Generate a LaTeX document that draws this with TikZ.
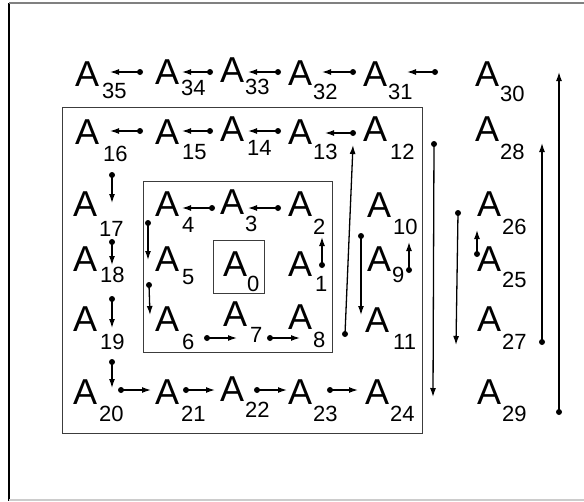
\documentclass[tikz,border=0pt]{standalone}
\usepackage{fontspec}
\setmainfont{Liberation Sans}
\usepackage{tikz}
\usetikzlibrary{arrows.meta}
\definecolor{boxgray}{RGB}{60,60,60}
\tikzset{
  letter/.style ={anchor=south west, inner sep=0pt, font=\fontsize{36}{36}\selectfont},
  index/.style  ={anchor=south west, inner sep=0pt, font=\fontsize{22}{22}\selectfont},
  ar/.style     ={-{Latex[length=9pt,width=6pt]}, line width=1.3pt},
  frm/.style    ={draw=boxgray, line width=1pt},
}

\begin{document}
\begin{tikzpicture}[x=1pt,y=-1pt]
\useasboundingbox (0,0) rectangle (584,501);
% page border
\draw[line width=1.5pt] (9,3) -- (9,501);
\draw[gray, line width=1.5pt] (9,3) -- (584,3);
\draw[gray!40, line width=1.5pt] (9,500) -- (584,500);
% nested frames
\draw[frm] (62,107) rectangle (422,433);
\draw[frm] (143,181) rectangle (332,352);
\draw[frm] (213,240) rectangle (264,293);
% labels: number / A corner / index corner
\foreach \n/\ax/\ay/\sx/\sy in {
  35/75/87/102/99, 34/155/85/181/96, 33/220/83/245/95, 32/288/86/313/100,
  31/363/87/388/100, 30/475/87/500/102,
  16/75/145/103/162, 15/155/145/182/160, 14/220/142/247/156, 13/288/145/313/160,
  12/363/142/390/160, 28/475/142/500/160,
  17/73/217/99/237, 4/155/217/182/233, 3/220/215/245/232, 2/288/217/313/235,
  10/367/218/393/235, 26/477/217/502/235,
  18/73/272/100/283, 5/155/272/182/285, 0/223/277/247/292, 1/288/277/315/292,
  9/367/272/392/283, 25/477/272/502/288,
  19/73/332/100/350, 6/155/332/182/350, 7/223/327/250/343, 8/288/330/313/348,
  11/365/333/393/350, 27/477/332/502/350,
  20/73/405/99/422, 21/155/405/181/422, 22/220/402/245/418, 23/288/405/313/422,
  24/365/405/390/422, 29/477/405/502/422}
{
  \node[letter] (a\n) at (\ax,\ay) {A};
  \node[index] (n\n) at (\sx,\sy) {\n};
}
% steps: dot end / arrow end
\foreach \k/\xa/\ya/\xb/\yb in {
  34/140/72/110/72, 33/210/72/182/72, 32/278/72/248/72, 31/353/72/322/72,
  30/435/72/407/72, 29/559/412/559/72,
  15/140/131/110/131, 14/210/131/182/131, 13/278/131/248/131, 12/353/133/325/133,
  11/345/334/353/145, 24/434/144/433/397,
  1/322/265/322/237, 2/278/208/248/208, 3/212/208/182/208, 4/148/223/148/260,
  5/149/285/150/315, 6/207/338/237/338, 7/270/338/300/338,
  9/409/270/409/242, 10/361/236/361/315,
  25/477/254/477/230, 26/458/213/456/345, 27/542/342/542/143,
  16/112/175/112/203, 17/112/242/112/265, 18/112/299/112/328, 19/112/362/112/388,
  20/121/390/151/390, 21/186/390/215/390, 22/257/390/287/390, 23/330/390/358/390}
{
  \coordinate (s\k) at (\xa,\ya);
  \coordinate (e\k) at (\xb,\yb);
  \draw[ar] (s\k) -- (e\k);
  \fill (s\k) circle[radius=3pt];
}
\end{tikzpicture}
\end{document}
